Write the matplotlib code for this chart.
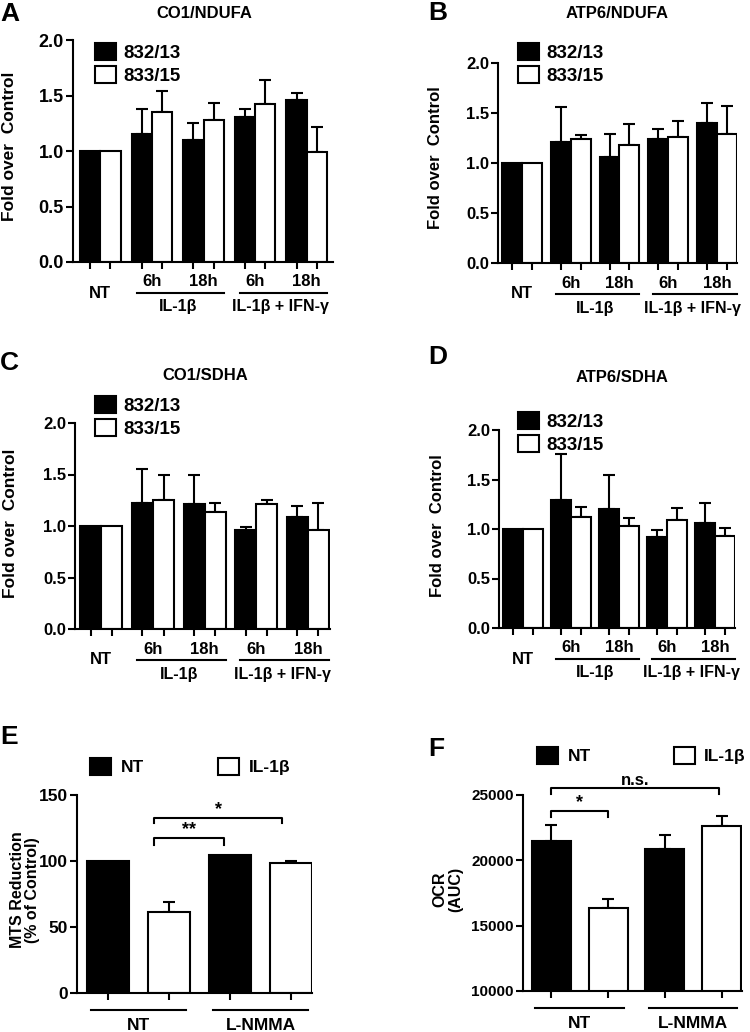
import matplotlib
matplotlib.use('Agg')
import matplotlib.pyplot as plt
from matplotlib.patches import Patch
from matplotlib.transforms import offset_copy

plt.rcParams['font.family'] = ['Liberation Sans', 'DejaVu Sans']
plt.rcParams['font.weight'] = 'bold'

W, H = 750, 1032

# panels A-D: fold over control, two cell lines, five conditions
groups = ['NT', '6h', '18h', '6h', '18h']
treat_labels = ['IL-1β', 'IL-1β + IFN-γ']
lines_legend = ['832/13', '833/15']

A_832 = [1.00, 1.15, 1.10, 1.31, 1.46]
A_832_err = [0, 0.23, 0.15, 0.07, 0.06]
A_833 = [1.00, 1.35, 1.28, 1.42, 0.99]
A_833_err = [0, 0.19, 0.15, 0.22, 0.23]

B_832 = [1.00, 1.21, 1.06, 1.24, 1.40]
B_832_err = [0, 0.35, 0.23, 0.10, 0.20]
B_833 = [1.00, 1.24, 1.18, 1.26, 1.29]
B_833_err = [0, 0.04, 0.21, 0.16, 0.28]

C_832 = [1.00, 1.22, 1.21, 0.96, 1.09]
C_832_err = [0, 0.33, 0.29, 0.03, 0.10]
C_833 = [1.00, 1.25, 1.14, 1.21, 0.96]
C_833_err = [0, 0.25, 0.08, 0.04, 0.26]

D_832 = [1.00, 1.29, 1.20, 0.92, 1.06]
D_832_err = [0, 0.47, 0.35, 0.07, 0.20]
D_833 = [1.00, 1.12, 1.03, 1.09, 0.93]
D_833_err = [0, 0.10, 0.08, 0.12, 0.08]

# panels E-F: NT vs IL-1b, without / with L-NMMA
cond_labels = ['NT', 'L-NMMA']
cond_legend = ['NT', 'IL-1β']
E_nt = [100, 104.5]
E_nt_err = [0, 0]
E_il = [61.6, 98.3]
E_il_err = [7.6, 1.9]

F_nt = [21480, 20840]
F_nt_err = [1220, 1100]
F_il = [16375, 22630]
F_il_err = [665, 760]

fig = plt.figure(figsize=(W / 100, H / 100), dpi=100)


def axes_px(x0, y0, x1, y1):
    return fig.add_axes([x0 / W, 1 - y1 / H, (x1 - x0) / W, (y1 - y0) / H])


def style_axes(ax, tick_size):
    for s in ['top', 'right']:
        ax.spines[s].set_visible(False)
    for s in ['left', 'bottom']:
        ax.spines[s].set_linewidth(1.5)
    ax.tick_params(direction='out', length=5, width=1.5, labelsize=tick_size, pad=1.5)


def bars(ax, x, vals, errs, color):
    ax.bar(x, vals, width=bw, color=color, edgecolor='black', linewidth=1.5, zorder=2)
    for xi, v, e in zip(x, vals, errs):
        if e > 0:
            ax.errorbar(xi, v, yerr=[[0], [e]], fmt='none', ecolor='black',
                        elinewidth=1.5, capsize=4, capthick=1.5, zorder=1)


def below(ax, dy):
    return offset_copy(ax.get_xaxis_transform(), fig=fig, x=0, y=-dy, units='dots')


def letter_text(xy, letter):
    # xy = left edge and baseline in pixels
    fig.text(xy[0] / W, 1 - xy[1] / H, letter, ha='left', va='baseline', fontsize=19)


def fold_panel(box, v832, e832, v833, e833, spacing, pad, rpad, tick_size,
               title, title_xy, letter, letter_xy, ylab_xy, ylab_size, leg_xy):
    global bw
    bw = 1.0
    ax = axes_px(*box)
    xb = [pad + g * spacing + 0.5 for g in range(len(groups))]
    xw = [x + 1 for x in xb]
    bars(ax, xb, v832, e832, 'black')
    bars(ax, xw, v833, e833, 'white')
    ax.set_xlim(0, pad + (len(groups) - 1) * spacing + 2 + rpad)
    ax.set_ylim(0, 2.0)
    ax.set_yticks([0, 0.5, 1.0, 1.5, 2.0])
    ax.set_yticklabels(['0.0', '0.5', '1.0', '1.5', '2.0'])
    ax.set_xticks(sorted(xb + xw))
    ax.set_xticklabels([])
    style_axes(ax, tick_size)
    centers = [x + 0.5 for x in xb]
    ax.text(centers[0], 0, groups[0], transform=below(ax, 31), ha='center', va='center', fontsize=12)
    for c, g in zip(centers[1:], groups[1:]):
        ax.text(c, 0, g, transform=below(ax, 20), ha='center', va='center', fontsize=12)
    for k, lab in enumerate(treat_labels):
        g0, g1 = 1 + 2 * k, 2 + 2 * k
        ax.plot([xb[g0] - 0.25, xw[g1] + 0.5], [0, 0], color='black', lw=1.5,
                transform=below(ax, 31), clip_on=False)
        ax.text((centers[g0] + centers[g1]) / 2, 0, lab, transform=below(ax, 45),
                ha='center', va='center', fontsize=11.5)
    fig.text(title_xy[0] / W, 1 - title_xy[1] / H, title, ha='center', va='center', fontsize=12)
    letter_text(letter_xy, letter)
    fig.text(ylab_xy[0] / W, 1 - ylab_xy[1] / H, 'Fold over  Control', rotation=90,
             ha='center', va='center', fontsize=ylab_size)
    handles = [Patch(facecolor='black', edgecolor='black', linewidth=1.5),
               Patch(facecolor='white', edgecolor='black', linewidth=1.5)]
    ax.legend(handles, lines_legend, loc='upper left', bbox_to_anchor=(leg_xy[0] / W, 1 - leg_xy[1] / H),
              bbox_transform=fig.transFigure, frameon=False, fontsize=13.5, borderpad=0,
              handlelength=1.1, handleheight=1.05, labelspacing=0.2, handletextpad=0.4,
              borderaxespad=0)
    return ax


fold_panel((73, 40, 333, 262), A_832, A_832_err, A_833, A_833_err, 2.55, 0.35, 0.3, 13,
           'CO1/NDUFA', (204, 14), 'A', (0, 21), (10, 146), 12.5, (95, 43))
fold_panel((498, 63, 737, 263), B_832, B_832_err, B_833, B_833_err, 2.45, 0.2, 0.0, 12,
           'ATP6/NDUFA', (617, 13), 'B', (428, 20), (436, 158), 12, (518, 43))
fold_panel((75, 423, 330, 629), C_832, C_832_err, C_833, C_833_err, 2.45, 0.25, 0.05, 12,
           'CO1/SDHA', (205, 376), 'C', (0, 370), (11, 523), 12.5, (95, 396))
fold_panel((499, 430, 735, 628), D_832, D_832_err, D_833, D_833_err, 2.4, 0.2, 0.0, 12,
           'ATP6/SDHA', (622, 378), 'D', (428, 364), (438, 526), 12, (518, 412))


def pair_panel(box, vnt, ent, vil, eil, ylim, yticks, xlim, tick_size,
               letter, letter_xy, ylab, ylab_xy, leg_xy, colsp, brackets):
    global bw
    bw = 0.69
    ax = axes_px(*box)
    xn = [0, 2]
    xi = [1, 3]
    bars(ax, xn, vnt, ent, 'black')
    bars(ax, xi, vil, eil, 'white')
    ax.set_xlim(*xlim)
    ax.set_ylim(*ylim)
    ax.set_yticks(yticks)
    ax.set_xticks([0, 1, 2, 3])
    ax.set_xticklabels([])
    style_axes(ax, tick_size)
    for k, lab in enumerate(cond_labels):
        c = 0.5 + 2 * k
        ax.plot([c - 0.78, c + 0.78], [0, 0], color='black', lw=1.5,
                transform=below(ax, 17), clip_on=False)
        ax.text(c, 0, lab, transform=below(ax, 32), ha='center', va='center', fontsize=12.5)
    for x0, x1, y, drop, txt, tsize in brackets:
        ax.plot([x0, x0, x1, x1], [y - drop, y, y, y - drop], color='black', lw=1.5, clip_on=False)
        ax.text((x0 + x1) / 2, y, txt, ha='center', va='bottom', fontsize=tsize)
    letter_text(letter_xy, letter)
    fig.text(ylab_xy[0] / W, 1 - ylab_xy[1] / H, ylab, rotation=90, ha='center', va='center',
             fontsize=11.5, multialignment='center', linespacing=1.05)
    handles = [Patch(facecolor='black', edgecolor='black', linewidth=1.5),
               Patch(facecolor='white', edgecolor='black', linewidth=1.5)]
    ax.legend(handles, cond_legend, loc='upper left', bbox_to_anchor=(leg_xy[0] / W, 1 - leg_xy[1] / H),
              bbox_transform=fig.transFigure, frameon=False, fontsize=12.5, borderpad=0, ncol=2,
              handlelength=1.2, handleheight=1.15, handletextpad=0.55, columnspacing=colsp,
              borderaxespad=0)
    return ax


pair_panel((77, 795, 312, 993), E_nt, E_nt_err, E_il, E_il_err, (0, 150), [0, 50, 100, 150],
           (-0.51, 3.34), 12.5, 'E', (0, 744), 'MTS Reduction\n(% of Control)', (25, 890),
           (90, 758), 4.3,
           [(0.75, 1.9, 117.4, 5, '**', 13), (0.75, 2.85, 132.6, 4, '*', 13)])
pair_panel((523, 795, 742, 991), F_nt, F_nt_err, F_il, F_il_err, (10000, 25000),
           [10000, 15000, 20000, 25000], (-0.5, 3.36), 11, 'F', (428, 756), 'OCR\n(AUC)', (448, 889),
           (537, 747), 4.8,
           [(0, 1, 23800, 460, '*', 13), (0, 2.95, 25560, 480, 'n.s.', 12)])

fig.savefig('out.png', dpi=100)
